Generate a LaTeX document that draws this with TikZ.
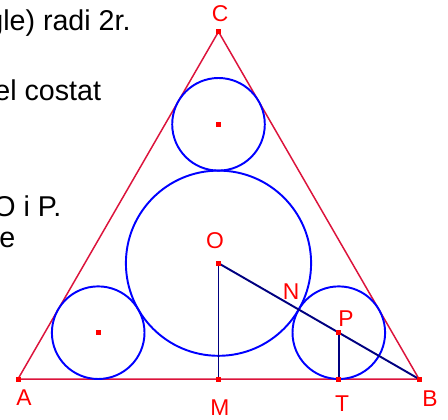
\documentclass[tikz,border=0pt]{standalone}
\usepackage{fontspec}
\setmainfont{Liberation Sans}
\usetikzlibrary{calc}
\definecolor{tricol}{RGB}{220,20,60}
\definecolor{segcol}{RGB}{0,0,128}
\begin{document}
\begin{tikzpicture}[x=0.02cm,y=-0.02cm,
  triline/.style={draw=tricol,line width=0.85pt},
  circline/.style={draw=blue,line width=1.1pt},
  segline/.style={draw=segcol,line width=1.1pt},
  ptmark/.style={rectangle,fill=red,inner sep=0pt,minimum size=0.1cm},
  lab/.style={text=red,font=\fontsize{13pt}{15pt}\selectfont,inner sep=0pt},
  bodytxt/.style={text=black,font=\fontsize{16.3pt}{19pt}\selectfont,inner sep=0pt,anchor=base west}]
\useasboundingbox (0,0) rectangle (448,419);
% geometry
\def\rr{46.3}
\coordinate (A) at (18,379);
\coordinate (B) at (419,379);
\coordinate (C) at (218.5,31.7);
\coordinate (O) at (218.5,263.2);
\coordinate (M) at (218.5,379);
\coordinate (P) at ($(O)!0.6!(B)$);
\coordinate (N) at ($(O)!0.4!(B)$);
\coordinate (T) at (P |- A);
\coordinate (Q) at (218.5,124.3);
\coordinate (L) at ($(A)!0.4!(O)$);
% text fragments
\node[bodytxt] (t1) at (-13,30) {gle) radi 2r.};
\node[bodytxt] (t2) at (-6,100) {el costat};
\node[bodytxt] (t3) at (-7,216) {O i P.};
\node[bodytxt] (t4) at (-1,247) {e};
% triangle
\draw[triline] (A) -- (B) -- (C) -- cycle;
% circles
\draw[circline] (O) circle (2*\rr);
\draw[circline] (P) circle (\rr);
\draw[circline] (Q) circle (\rr);
\draw[circline] (L) circle (\rr);
% segments
\draw[segline] (O) -- (M);
\draw[segline] (O) -- (B);
\draw[segline] (P) -- (T);
% points
\foreach \p in {A,B,C,O,M,P,T,Q,L} \node[ptmark] (m\p) at (\p) {};
% labels
\node[lab] (lC) at (220,14) {C};
\node[lab] (lO) at (215,241) {O};
\node[lab] (lN) at (291,292) {N};
\node[lab] (lP) at (346,319) {P};
\node[lab] (lA) at (24,398) {A};
\node[lab] (lM) at (220,408) {M};
\node[lab] (lT) at (342,404) {T};
\node[lab] (lB) at (430,399) {B};
\end{tikzpicture}
\end{document}
